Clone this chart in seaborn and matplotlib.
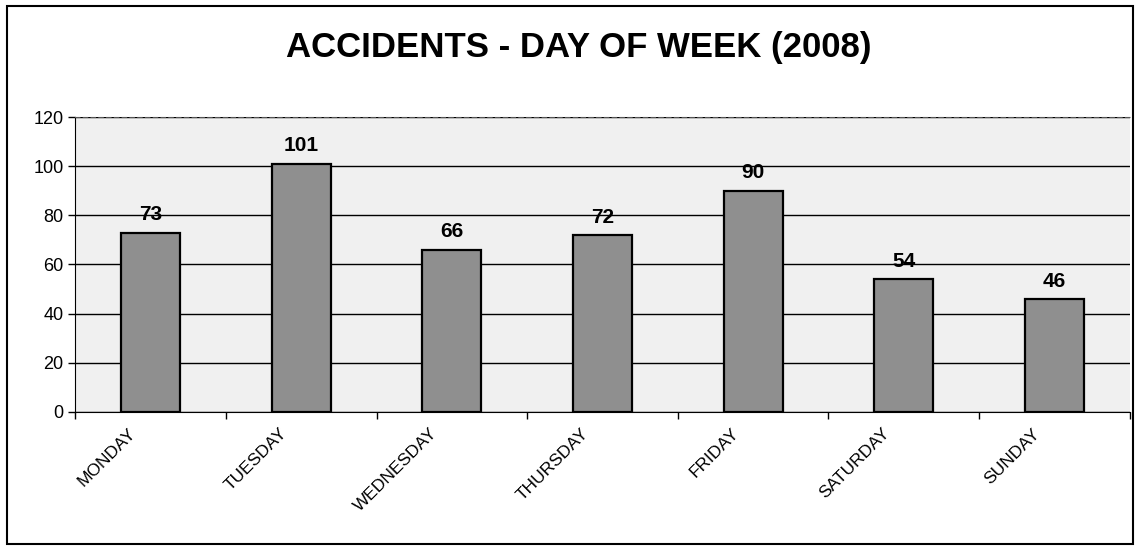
import matplotlib
matplotlib.use("Agg")
import matplotlib.pyplot as plt
import matplotlib.transforms as mtransforms
import seaborn as sns
import pandas as pd
from matplotlib.patches import Rectangle

days = ["MONDAY", "TUESDAY", "WEDNESDAY", "THURSDAY", "FRIDAY", "SATURDAY", "SUNDAY"]
accidents = [73, 101, 66, 72, 90, 54, 46]
y_ticks = [0, 20, 40, 60, 80, 100, 120]

sns.set_style("white")
plt.rcParams["font.family"] = ["Liberation Sans", "DejaVu Sans"]
plt.rcParams["text.color"] = "black"
plt.rcParams["xtick.color"] = "black"
plt.rcParams["ytick.color"] = "black"

df = pd.DataFrame({"day": days, "accidents": accidents})

fig = plt.figure(figsize=(11.4, 5.55), dpi=100)
ax = fig.add_axes([0.066, 0.258, 0.925, 0.531])
ax.set_facecolor("#f0f0f0")

sns.barplot(data=df, x="day", y="accidents", color="#8f8f8f", edgecolor="black",
            linewidth=1.6, width=0.39, saturation=1, ax=ax, zorder=3)

ax.bar_label(ax.containers[0], fontsize=15, fontweight="bold", padding=6)

ax.set_ylim(0, 120)
ax.set_yticks(y_ticks)
ax.set_xlim(-0.5, len(days) - 0.5)
ax.yaxis.grid(True, color="black", linewidth=1.0, zorder=0)
ax.set_axisbelow(True)
ax.set_xlabel("")
ax.set_ylabel("")

# category separators as ticks on the x axis
ax.set_xticks([i + 0.5 for i in range(-1, len(days))], minor=True)
ax.tick_params(axis="x", which="minor", length=5, width=1, color="black",
               direction="out", bottom=True)
ax.tick_params(axis="x", which="major", length=0, labelsize=12.5, pad=10)
ax.tick_params(axis="y", length=5, width=1, color="black", direction="out",
               labelsize=13, left=True)
shift = mtransforms.ScaledTranslation(-0.22, 0, fig.dpi_scale_trans)
for lab in ax.get_xticklabels():
    lab.set_rotation(45)
    lab.set_ha("right")
    lab.set_rotation_mode("anchor")
    lab.set_transform(lab.get_transform() + shift)

ax.spines["right"].set_visible(False)
ax.spines["top"].set_linestyle((0, (4, 3)))
ax.spines["top"].set_color("#555555")
ax.spines["left"].set_color("black")
ax.spines["bottom"].set_color("black")

fig.text(0.508, 0.915, "ACCIDENTS - DAY OF WEEK (2008)", ha="center", va="center",
         fontsize=25, fontweight="bold")

fig.patches.append(Rectangle((0.006, 0.02), 0.988, 0.97, transform=fig.transFigure,
                             fill=False, edgecolor="black", linewidth=1.5))

fig.savefig("out.png", dpi=100)
